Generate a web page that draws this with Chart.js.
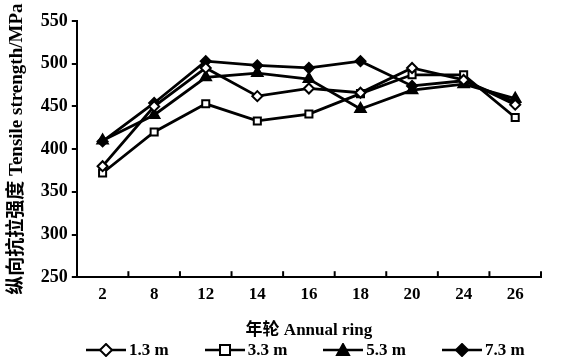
<!DOCTYPE html>
<html>
<head>
<meta charset="utf-8">
<script src="https://cdn.jsdelivr.net/npm/chart.js@4/dist/chart.umd.min.js"></script>
<style>
  html, body { margin: 0; padding: 0; background: #fff; overflow: hidden; }
  #wrap { position: relative; width: 563px; height: 361px; }
  #legend {
    position: absolute; left: 86px; top: 340px; height: 20px;
    display: flex; align-items: center; white-space: nowrap;
    font-family: 'Liberation Serif', serif; font-weight: bold; font-size: 17px; color: #000;
  }
  #legend .item { display: flex; align-items: center; }
  #legend canvas { margin-right: 3px; }
</style>
</head>
<body>
<div id="wrap">
  <canvas id="chart" width="563" height="361"></canvas>
  <div id="legend"></div>
</div>
<script>
// Annual ring categories
const rings = ["2", "8", "12", "14", "16", "18", "20", "24", "26"]

// Tensile strength (MPa) by height
const h13 = [380, 450, 495, 462, 471, 466, 495, 481, 452]
const h33 = [372, 420, 453, 433, 441, 465, 487, 487, 437]
const h53 = [410, 440, 484, 489, 482, 447, 469, 476, 459]
const h73 = [409, 454, 503, 498, 495, 503, 474, 480, 455]

const seriesNames = ["1.3 m", "3.3 m", "5.3 m", "7.3 m"]
const yTicks = [250, 300, 350, 400, 450, 500, 550]

const serif = "'Liberation Serif', 'Noto Sans CJK SC', serif"

// Small canvas with line + marker, used as legend symbol
function legendSymbol(style, filled) {
  const c = document.createElement("canvas")
  c.width = 40
  c.height = 14
  const ctx = c.getContext("2d")
  ctx.strokeStyle = "#000"
  ctx.lineWidth = 2.5
  ctx.beginPath()
  ctx.moveTo(0, 7)
  ctx.lineTo(40, 7)
  ctx.stroke()
  ctx.fillStyle = filled ? "#000" : "#fff"
  ctx.lineWidth = 2
  ctx.beginPath()
  if (style === "rectRot") {
    ctx.moveTo(20, 1); ctx.lineTo(26, 7); ctx.lineTo(20, 13); ctx.lineTo(14, 7); ctx.closePath()
  } else if (style === "rect") {
    ctx.rect(15, 2, 10, 10)
  } else {
    ctx.moveTo(20, 1); ctx.lineTo(26, 12); ctx.lineTo(14, 12); ctx.closePath()
  }
  ctx.fill()
  ctx.stroke()
  return c
}

function makeSet(label, data, style, filled, radius) {
  return {
    label: label,
    data: data,
    borderColor: "#000",
    borderWidth: 2.8,
    pointStyle: style,
    pointRadius: radius,
    pointBorderWidth: 2,
    pointBorderColor: "#000",
    pointBackgroundColor: filled ? "#000" : "#fff",
    tension: 0,
    fill: false,
    symbol: legendSymbol(style, filled),
  }
}

// inward x ticks between categories
const xInnerTicks = {
  id: "xInnerTicks",
  afterDraw(chart) {
    const x = chart.scales.x
    const ctx = chart.ctx
    const step = x.getPixelForTick(1) - x.getPixelForTick(0)
    ctx.save()
    ctx.strokeStyle = "#000"
    ctx.lineWidth = 2
    for (let i = 0; i < rings.length; i++) {
      const px = x.getPixelForTick(i) + step / 2
      ctx.beginPath()
      ctx.moveTo(px, x.top)
      ctx.lineTo(px, x.top - 6)
      ctx.stroke()
    }
    ctx.restore()
  },
}

const chart = new Chart(document.getElementById("chart"), {
  type: "line",
  data: {
    labels: rings,
    datasets: [
      makeSet(seriesNames[0], h13, "rectRot", false, 5),
      makeSet(seriesNames[1], h33, "rect", false, 5),
      makeSet(seriesNames[2], h53, "triangle", true, 6),
      makeSet(seriesNames[3], h73, "rectRot", true, 5),
    ],
  },
  options: {
    responsive: false,
    animation: false,
    layout: { padding: { left: 6, right: 22, top: 21, bottom: 20 } },
    plugins: {
      tooltip: { enabled: false },
      legend: { display: false },
    },
    scales: {
      x: {
        offset: true,
        grid: { display: false, drawTicks: false },
        border: { color: "#000", width: 2 },
        ticks: {
          color: "#000",
          padding: 7,
          font: { family: serif, size: 17, weight: "bold" },
        },
        title: {
          display: true,
          text: "年轮 Annual ring",
          color: "#000",
          padding: { top: 9, bottom: 0 },
          font: { family: serif, size: 17, weight: "bold" },
        },
      },
      y: {
        min: 250,
        max: 550,
        afterBuildTicks: (axis) => {
          axis.ticks = yTicks.map((v) => ({ value: v }))
        },
        grid: { drawOnChartArea: false, tickLength: 5, color: "#000", lineWidth: 2 },
        border: { color: "#000", width: 2 },
        ticks: {
          color: "#000",
          padding: 4,
          font: { family: serif, size: 18, weight: "bold" },
        },
        title: {
          display: true,
          text: "纵向抗拉强度 Tensile strength/MPa",
          color: "#000",
          padding: { top: 0, bottom: 8 },
          font: { family: serif, size: 19, weight: "bold" },
        },
      },
    },
  },
  plugins: [xInnerTicks],
})

// HTML legend
const legend = document.getElementById("legend")
chart.data.datasets.forEach((ds, i) => {
  const item = document.createElement("div")
  item.className = "item"
  if (i > 0) item.style.marginLeft = "36px"
  item.appendChild(ds.symbol)
  const span = document.createElement("span")
  span.textContent = ds.label
  item.appendChild(span)
  legend.appendChild(item)
})
</script>
</body>
</html>
